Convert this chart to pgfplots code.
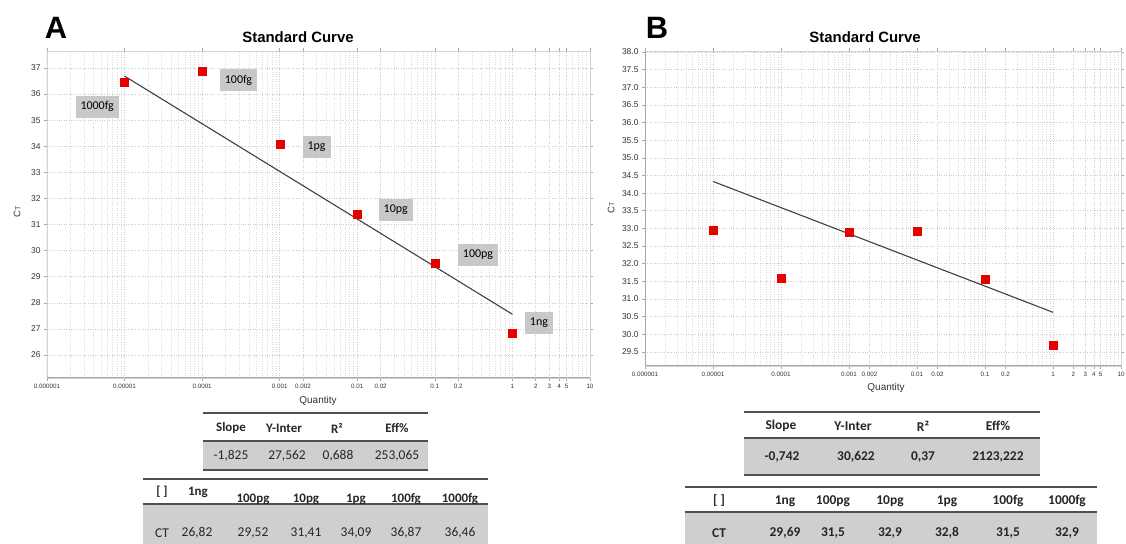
\documentclass[border=0pt]{standalone}
\usepackage{fontspec}
\setmainfont{Liberation Sans}
\newfontfamily\carlito{Carlito}
\usepackage{pgfplots}
\pgfplotsset{compat=1.18}

\definecolor{ptred}{HTML}{E60000}
\definecolor{lblgray}{HTML}{C8C8C8}
\definecolor{tblgray}{HTML}{CFCFCF}
\definecolor{fitgray}{HTML}{404040}
\definecolor{tline}{HTML}{505050}

\tikzset{lblbox/.style={fill=lblgray, inner xsep=5bp, minimum height=22bp, font=\carlito\fontsize{12}{12}\selectfont}}

\begin{document}
\begin{tikzpicture}
\useasboundingbox (0,0) rectangle (1126bp,544bp);

% ---------------- Panel A ----------------
\begin{axis}[scale only axis, anchor=south west,
  at={(47bp,166bp)}, width=543bp, height=327bp,
  xmode=log, log basis x=10,
  xmin=1e-6, xmax=10,
  xtick={1e-6,1e-5,1e-4,1e-3,2e-3,1e-2,2e-2,0.1,0.2,1,2,3,4,5,10},
  xticklabels={0.000001,0.00001,0.0001,0.001,0.002,0.01,0.02,0.1,0.2,1,2,3,4,5,10},
  minor xtick={2e-6,3e-6,4e-6,5e-6,6e-6,7e-6,8e-6,9e-6,2e-5,3e-5,4e-5,5e-5,6e-5,7e-5,8e-5,9e-5,2e-4,3e-4,4e-4,5e-4,6e-4,7e-4,8e-4,9e-4,3e-3,4e-3,5e-3,6e-3,7e-3,8e-3,9e-3,3e-2,4e-2,5e-2,6e-2,7e-2,8e-2,9e-2,0.3,0.4,0.5,0.6,0.7,0.8,0.9,6,7,8,9},
  grid=both,
  major grid style={dotted, gray!40, line width=0.6bp},
  minor grid style={dotted, gray!28, line width=0.6bp},
  axis line style={draw=gray!35, line width=0.8bp},
  tick align=outside, major tick length=3bp, minor tick length=0pt,
  tick style={gray!70, line width=0.6bp},
  x tick label style={font=\fontsize{6.3}{7}\selectfont, text=black!80},
  y tick label style={font=\fontsize{8.5}{10}\selectfont, text=black!80},
  /pgf/number format/assume math mode=true,
  ymin=25.12, ymax=37.65, ytick={26,27,...,37}]
\addplot[fitgray, line width=1.1bp, mark=none] coordinates {(1e-5,36.687) (1,27.562)};
\addplot[only marks, mark=square*, mark size=4bp, color=ptred] coordinates {(1e-5,36.46) (1e-4,36.87) (1e-3,34.09) (1e-2,31.41) (0.1,29.52) (1,26.82)};
\node[lblbox] at (axis cs:4.43e-6,35.51) {1000fg};
\node[lblbox] at (axis cs:2.94e-4,36.54) {100fg};
\node[lblbox] at (axis cs:2.99e-3,33.97) {1pg};
\node[lblbox] at (axis cs:0.0313,31.56) {10pg};
\node[lblbox] at (axis cs:0.360,29.84) {100pg};
\node[lblbox] at (axis cs:2.20,27.23) {1ng};
\draw[gray!70, line width=1bp] (rel axis cs:0,1) -- (rel axis cs:0,0) -- (rel axis cs:1,0);
\end{axis}

% ---------------- Panel B ----------------
\begin{axis}[scale only axis, anchor=south west,
  at={(645bp,178bp)}, width=476bp, height=315bp,
  xmode=log, log basis x=10,
  xmin=1e-6, xmax=10,
  xtick={1e-6,1e-5,1e-4,1e-3,2e-3,1e-2,2e-2,0.1,0.2,1,2,3,4,5,10},
  xticklabels={0.000001,0.00001,0.0001,0.001,0.002,0.01,0.02,0.1,0.2,1,2,3,4,5,10},
  minor xtick={2e-6,3e-6,4e-6,5e-6,6e-6,7e-6,8e-6,9e-6,2e-5,3e-5,4e-5,5e-5,6e-5,7e-5,8e-5,9e-5,2e-4,3e-4,4e-4,5e-4,6e-4,7e-4,8e-4,9e-4,3e-3,4e-3,5e-3,6e-3,7e-3,8e-3,9e-3,3e-2,4e-2,5e-2,6e-2,7e-2,8e-2,9e-2,0.3,0.4,0.5,0.6,0.7,0.8,0.9,6,7,8,9},
  grid=both,
  major grid style={dotted, gray!40, line width=0.6bp},
  minor grid style={dotted, gray!28, line width=0.6bp},
  axis line style={draw=gray!35, line width=0.8bp},
  tick align=outside, major tick length=3bp, minor tick length=0pt,
  tick style={gray!70, line width=0.6bp},
  x tick label style={font=\fontsize{6.3}{7}\selectfont, text=black!80},
  y tick label style={font=\fontsize{8.5}{10}\selectfont, text=black!80},
  /pgf/number format/assume math mode=true,
  ymin=29.10, ymax=38.03, ytick={29.5,30,...,38},
  yticklabel style={/pgf/number format/.cd, fixed, fixed zerofill, precision=1}]
\addplot[fitgray, line width=1.1bp, mark=none] coordinates {(1e-5,34.332) (1,30.622)};
\addplot[only marks, mark=square*, mark size=4bp, color=ptred] coordinates {(1e-5,32.95) (1e-4,31.60) (1e-3,32.88) (1e-2,32.91) (0.1,31.55) (1,29.70)};
\draw[gray!70, line width=1bp] (rel axis cs:0,1) -- (rel axis cs:0,0) -- (rel axis cs:1,0);
\end{axis}

% ---------------- Text around panels ----------------
\node[font=\bfseries\fontsize{31}{31}\selectfont] at (56bp,516bp) {A};
\node[font=\bfseries\fontsize{31}{31}\selectfont] at (657bp,516bp) {B};
\node[font=\bfseries\fontsize{15}{15}\selectfont] at (298bp,507bp) {Standard Curve};
\node[font=\bfseries\fontsize{15}{15}\selectfont] at (865bp,507bp) {Standard Curve};
\node[rotate=90, font=\fontsize{9.5}{10}\selectfont, text=black!80] at (17bp,332bp) {C{\fontsize{7}{7}\selectfont T}};
\node[rotate=90, font=\fontsize{9.5}{10}\selectfont, text=black!80] at (611bp,336bp) {C{\fontsize{7}{7}\selectfont T}};
\node[font=\fontsize{10}{10}\selectfont, text=black!80] at (318bp,143bp) {Quantity};
\node[font=\fontsize{10}{10}\selectfont, text=black!80] at (886bp,156bp) {Quantity};

% ---------------- Tables A ----------------
\begin{scope}[every node/.style={font=\carlito\fontsize{13.5}{14}\selectfont, text=black!85}]
\fill[tblgray] (203bp,74bp) rectangle (428bp,103bp);
\draw[tline, line width=1.6bp] (203bp,131bp) -- (428bp,131bp);
\draw[tline, line width=1.6bp] (203bp,103bp) -- (428bp,103bp);
\draw[tline, line width=1.6bp] (203bp,74bp) -- (428bp,74bp);
\node[font=\carlito\bfseries\fontsize{13}{14}\selectfont] at (231bp,116bp) {Slope};
\node[font=\carlito\bfseries\fontsize{13}{14}\selectfont] at (284bp,116bp) {Y-Inter};
\node[font=\carlito\bfseries\fontsize{13}{14}\selectfont] at (337bp,116bp) {R²};
\node[font=\carlito\bfseries\fontsize{13}{14}\selectfont] at (397bp,116bp) {Eff\%};
\node at (231bp,88bp) {-1,825};
\node at (287bp,88bp) {27,562};
\node at (338bp,88bp) {0,688};
\node at (397bp,88bp) {253,065};

\fill[tblgray] (143bp,0bp) rectangle (488bp,40bp);
\draw[tline, line width=1.6bp] (143bp,65bp) -- (488bp,65bp);
\draw[tline, line width=1.8bp] (143bp,40bp) -- (488bp,40bp);
\node[font=\carlito\bfseries\fontsize{13}{14}\selectfont] at (162bp,52bp) {[ ]};
\node[font=\carlito\bfseries\fontsize{13}{14}\selectfont] at (198bp,52bp) {1ng};
\node[font=\carlito\bfseries\fontsize{13}{14}\selectfont] at (253bp,45bp) {100pg};
\node[font=\carlito\bfseries\fontsize{13}{14}\selectfont] at (306bp,45bp) {10pg};
\node[font=\carlito\bfseries\fontsize{13}{14}\selectfont] at (356bp,45bp) {1pg};
\node[font=\carlito\bfseries\fontsize{13}{14}\selectfont] at (406bp,45bp) {100fg};
\node[font=\carlito\bfseries\fontsize{13}{14}\selectfont] at (460bp,45bp) {1000fg};
\node at (162bp,11bp) {CT};
\node at (197bp,11bp) {26,82};
\node at (253bp,11bp) {29,52};
\node at (306bp,11bp) {31,41};
\node at (356bp,11bp) {34,09};
\node at (406bp,11bp) {36,87};
\node at (460bp,11bp) {36,46};
\end{scope}

% ---------------- Tables B ----------------
\begin{scope}[every node/.style={font=\carlito\bfseries\fontsize{13.5}{14}\selectfont, text=black!85}]
\fill[tblgray] (744bp,69bp) rectangle (1040bp,106bp);
\draw[tline, line width=1.6bp] (744bp,132bp) -- (1040bp,132bp);
\draw[tline, line width=1.6bp] (744bp,106bp) -- (1040bp,106bp);
\draw[tline, line width=1.6bp] (744bp,69bp) -- (1040bp,69bp);
\node at (781bp,118bp) {Slope};
\node at (853bp,118bp) {Y-Inter};
\node at (923bp,118bp) {R²};
\node at (998bp,118bp) {Eff\%};
\node at (782bp,87bp) {-0,742};
\node at (856bp,87bp) {30,622};
\node at (923bp,87bp) {0,37};
\node at (998bp,87bp) {2123,222};

\fill[tblgray] (685bp,0bp) rectangle (1097bp,32bp);
\draw[tline, line width=1.6bp] (685bp,57bp) -- (1097bp,57bp);
\draw[tline, line width=1.8bp] (685bp,32bp) -- (1097bp,32bp);
\node at (719bp,43bp) {[ ]};
\node at (785bp,43bp) {1ng};
\node at (833bp,43bp) {100pg};
\node at (890bp,43bp) {10pg};
\node at (947bp,43bp) {1pg};
\node at (1008bp,43bp) {100fg};
\node at (1067bp,43bp) {1000fg};
\node at (719bp,11bp) {CT};
\node at (785bp,11bp) {29,69};
\node at (833bp,11bp) {31,5};
\node at (890bp,11bp) {32,9};
\node at (947bp,11bp) {32,8};
\node at (1008bp,11bp) {31,5};
\node at (1067bp,11bp) {32,9};
\end{scope}
\end{tikzpicture}
\end{document}
